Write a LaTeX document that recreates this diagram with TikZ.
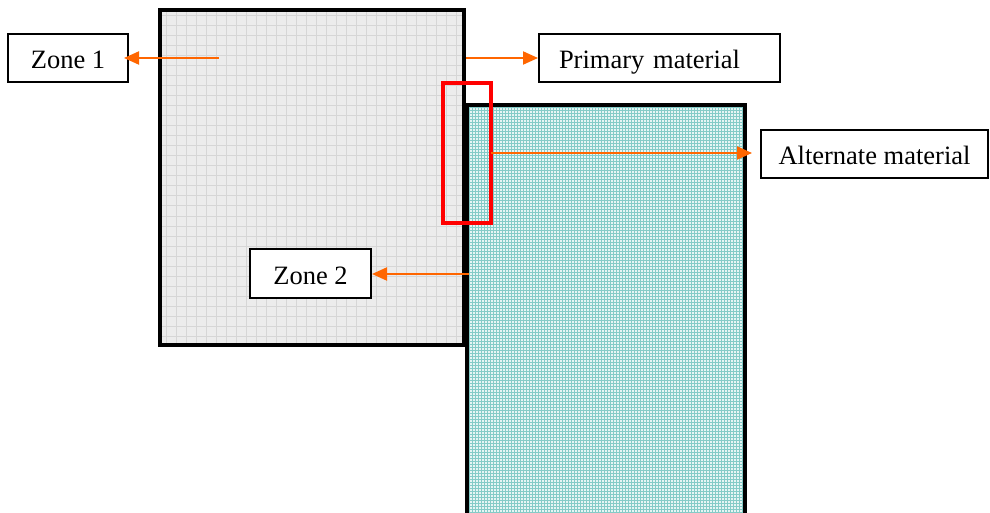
\documentclass[tikz,border=0pt]{standalone}
\usepackage{fontspec}
\setmainfont{Liberation Serif}
\usetikzlibrary{arrows.meta}
\definecolor{zoneorange}{HTML}{FF6600}
\definecolor{framered}{HTML}{FF0000}
\definecolor{greyfill}{HTML}{ECECEC}
\definecolor{greyline}{HTML}{D6D6D6}
\definecolor{tealfill}{HTML}{E6F5F4}
\definecolor{tealline}{HTML}{84CBC7}
\begin{document}
\begin{tikzpicture}[x=1pt,y=-1pt,
  labelbox/.style={draw=black, line width=2pt, fill=white, inner sep=0pt,
    font=\fontsize{26.5}{30}\selectfont, text height=22pt, text depth=0pt},
  pointer/.style={draw=zoneorange, line width=2pt,
    -{Triangle[length=15pt,width=13pt,fill=zoneorange]}},
  block/.style={draw=black, line width=4pt, line join=miter}]
\useasboundingbox (0,0) rectangle (990,513);
\clip (0,0) rectangle (990,513);

% primary material block (grey grid)
\fill[greyfill] (160,10) rectangle (464,345);
\begin{scope}
  \clip (160,10) rectangle (464,345);
  \foreach \x in {166,176,...,464} \draw[greyline, line width=1pt] (\x,10) -- (\x,345);
  \foreach \y in {16,26,...,345} \draw[greyline, line width=1pt] (160,\y) -- (464,\y);
\end{scope}
\draw[block] (160,10) rectangle (464,345);

% alternate material block (fine teal grid), runs off the bottom edge
\fill[tealfill] (467,105) rectangle (745,530);
\begin{scope}
  \clip (467,105) rectangle (745,530);
  \foreach \x in {469,472,...,745} \draw[tealline, line width=0.5pt] (\x,105) -- (\x,530);
  \foreach \y in {107,110,...,530} \draw[tealline, line width=0.5pt] (467,\y) -- (745,\y);
\end{scope}
\draw[block] (467,530) -- (467,105) -- (745,105) -- (745,530);

% interface highlight
\draw[framered, line width=4pt] (443,83) rectangle (491,223);
\coordinate (redE) at (491,153);

% labels
\node[labelbox, minimum width=120pt, minimum height=48pt] (zone1) at (68,58) {Zone 1};
\node[labelbox, minimum height=48pt, text width=201pt, inner xsep=20pt, align=left]
  (primary) at (659.5,58) {Primary material};
\node[labelbox, minimum width=227pt, minimum height=48pt] (alternate) at (874.5,154) {Alternate material};
\node[labelbox, minimum width=121pt, minimum height=49pt] (zone2) at (310.5,273.5) {Zone 2};

% pointers
\coordinate (z1tail) at (219,58);
\coordinate (greyE) at (466,58);
\coordinate (tealW) at (469,274);
\draw[pointer] (z1tail) -- ([xshift=-5pt]zone1.east);
\draw[pointer] (greyE) -- (greyE -| primary.west);
\draw[pointer] (redE) -- ([xshift=-8pt]redE -| alternate.west);
\draw[pointer] (tealW) -- (tealW -| zone2.east);
\end{tikzpicture}
\end{document}
